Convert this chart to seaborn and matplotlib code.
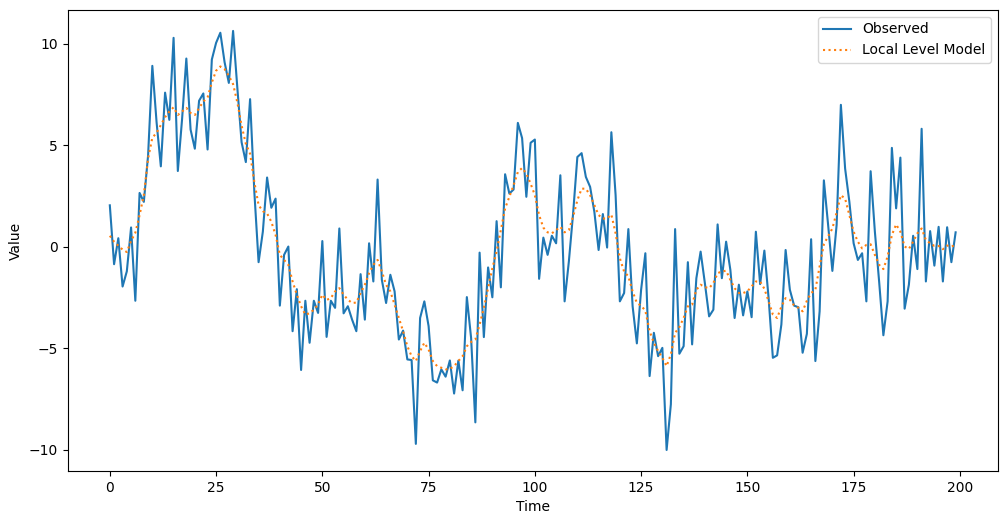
import numpy as np
import pandas as pd
import matplotlib
matplotlib.use("Agg")
import matplotlib.pyplot as plt
import seaborn as sns

# Values (t = 0..199)
observed = [
    2.05, -0.85, 0.43, -1.95, -1.2, 0.96, -2.65, 2.66, 2.22, 4.5,
    8.92, 6.14, 3.97, 7.6, 6.26, 10.3, 3.74, 6.3, 9.28, 5.78,
    4.84, 7.2, 7.56, 4.8, 9.23, 10.05, 10.55, 9.1, 8.08, 10.64,
    7.84, 5.16, 4.18, 7.28, 2.71, -0.75, 0.75, 3.42, 1.93, 2.38,
    -2.89, -0.39, 0.02, -4.15, -2.08, -6.06, -2.65, -4.72, -2.65, -3.25,
    0.29, -4.43, -2.65, -3.0, 0.91, -3.27, -2.92, -3.58, -4.15, -1.34,
    -3.58, 0.18, -1.7, 3.32, -1.62, -2.76, -1.37, -2.19, -4.56, -4.12,
    -5.54, -5.57, -9.7, -3.5, -2.68, -3.9, -6.57, -6.68, -6.03, -6.39,
    -5.59, -7.22, -5.6, -7.06, -2.47, -4.48, -8.64, -0.28, -4.44, -1.01,
    -2.48, 1.27, -1.99, 3.58, 2.63, 2.83, 6.11, 5.36, 2.47, 5.13,
    5.29, -1.57, 0.46, -0.39, 0.55, 0.18, 3.53, -2.68, -0.72, 1.65,
    4.43, 4.62, 3.45, 2.96, 1.73, -0.15, 1.62, -0.03, 5.65, 2.55,
    -2.68, -2.27, 0.88, -2.92, -4.75, -2.11, -0.31, -6.36, -4.23, -5.38,
    -4.97, -10.0, -7.75, 0.88, -5.26, -4.89, -0.75, -4.8, -1.54, -0.23,
    -1.78, -3.42, -3.09, 1.11, -1.54, 0.26, -1.13, -3.5, -1.86, -3.37,
    -2.19, -3.46, 0.75, -1.83, -0.18, -2.52, -5.46, -5.34, -3.82, -0.15,
    -2.11, -2.89, -2.97, -5.21, -4.28, 0.38, -5.62, -3.17, 3.28, 1.08,
    -1.18, 1.08, 7.0, 3.86, 2.22, 0.18, -0.64, -0.31, -2.68, 3.73,
    0.75, -1.7, -4.35, -2.68, 4.88, 1.9, 4.4, -3.04, -1.86, 0.55,
    -1.09, 5.82, -1.7, 0.78, -0.92, 0.99, -1.7, 0.97, -0.75, 0.72,
]

local_level = [
    0.55, 0.26, 0.06, -0.13, -0.25, 0.3, 0.7, 1.57, 2.55, 4.35,
    5.38, 5.62, 6.0, 6.39, 6.67, 6.88, 6.5, 6.67, 6.85, 6.6,
    6.5, 6.84, 7.16, 7.37, 8.1, 8.68, 8.89, 8.76, 8.43, 8.02,
    7.12, 5.98, 5.08, 4.59, 3.2, 2.06, 1.76, 1.65, 1.24, 0.59,
    -0.39, -0.64, -0.88, -1.7, -2.35, -2.92, -3.33, -3.27, -3.09, -2.84,
    -2.35, -2.61, -2.52, -2.19, -2.03, -2.35, -2.6, -2.76, -2.74, -2.27,
    -1.86, -1.29, -0.88, -0.64, -1.21, -1.86, -2.19, -2.84, -3.5, -4.15,
    -4.89, -5.38, -5.62, -5.13, -4.72, -5.05, -5.62, -5.87, -5.95, -6.03,
    -6.01, -5.87, -5.62, -5.38, -4.89, -4.68, -4.56, -3.82, -3.0, -2.03,
    -1.05, -0.23, 0.83, 1.9, 2.47, 3.04, 3.69, 3.89, 3.61, 3.12,
    2.55, 1.57, 0.95, 0.72, 0.67, 0.83, 0.99, 0.72, 0.83, 1.49,
    2.3, 2.87, 2.87, 2.55, 2.06, 1.57, 1.4, 1.4, 1.6, 0.67,
    -0.56, -1.21, -1.45, -2.19, -2.76, -2.89, -3.14, -4.15, -4.72, -5.13,
    -5.46, -5.87, -5.29, -4.23, -3.95, -3.5, -2.92, -2.84, -2.11, -1.86,
    -1.98, -2.03, -1.78, -1.29, -1.21, -1.17, -1.62, -2.03, -2.27, -2.27,
    -2.19, -1.94, -1.7, -1.7, -2.06, -2.68, -3.33, -3.5, -2.94, -2.52,
    -2.6, -2.89, -3.0, -3.17, -2.65, -2.27, -2.11, -0.96, 0.13, 0.53,
    0.91, 1.7, 2.55, 2.38, 1.57, 0.75, 0.26, -0.07, 0.1, 0.13,
    -0.39, -0.88, -1.09, -0.47, 0.59, 1.11, 0.75, 0.02, -0.1, 0.26,
    0.67, 0.91, 0.34, 0.18, 0.05, 0.05, -0.11, 0.07, 0.02, 0.1,
]

time = np.arange(len(observed))

df = pd.DataFrame({"Time": time, "Observed": observed, "Local Level Model": local_level})

fig, ax = plt.subplots(figsize=(10.08, 5.25), dpi=100)
fig.subplots_adjust(left=0.067, right=0.990, top=0.981, bottom=0.103)

sns.lineplot(data=df, x="Time", y="Observed", ax=ax, color="#1f77b4", label="Observed")
sns.lineplot(data=df, x="Time", y="Local Level Model", ax=ax, color="#ff7f0e",
             linestyle=":", label="Local Level Model")

ax.set_xlabel("Time")
ax.set_ylabel("Value")
ax.legend(loc="upper right")

fig.savefig("out.png", dpi=100)
